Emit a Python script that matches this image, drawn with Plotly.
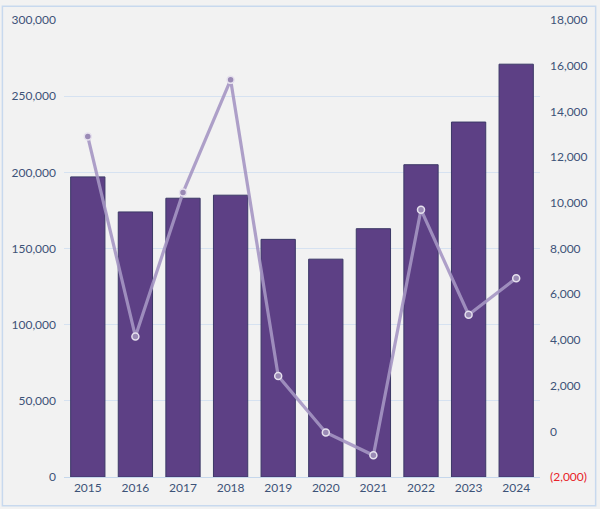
import plotly.graph_objects as go

years = ["2015", "2016", "2017", "2018", "2019", "2020", "2021", "2022", "2023", "2024"]
bar_values = [197000, 174000, 183000, 185000, 156000, 143000, 163000, 205000, 233000, 271000]
line_values = [12900, 4150, 10450, 15380, 2420, -50, -1050, 9700, 5100, 6700]

left_ticks = [0, 50000, 100000, 150000, 200000, 250000, 300000]
left_text = ["0", "50,000", "100,000", "150,000", "200,000", "250,000", "300,000"]
right_ticks = [-2000, 0, 2000, 4000, 6000, 8000, 10000, 12000, 14000, 16000, 18000]
right_text = ['<span style="color:#e8222a">(2,000)</span>', "0", "2,000", "4,000", "6,000",
              "8,000", "10,000", "12,000", "14,000", "16,000", "18,000"]

W, H = 600, 509
ml, mr, mt, mb = 63, 58, 15, 32
pw, ph = W - ml - mr, H - mt - mb

fig = go.Figure()
fig.add_trace(go.Bar(
    x=years, y=bar_values,
    marker=dict(color="#5d4085", line=dict(color="#3b3866", width=1)),
    width=0.72, yaxis="y", hoverinfo="x+y",
))
fig.add_trace(go.Scatter(
    x=years, y=line_values, yaxis="y2", mode="lines+markers",
    line=dict(color="rgba(165,150,195,0.9)", width=3.2),
    marker=dict(size=7, color="#9a8ab5", line=dict(color="#e6e1ee", width=1.5)),
))

font = dict(family="Lato, Open Sans, sans-serif", size=12, color="#3d5378")

def px2paper_x(px):
    return (px - ml) / pw

def px2paper_y(py):
    return 1 - (py - mt) / ph

fig.update_layout(
    width=W, height=H,
    margin=dict(l=ml, r=mr, t=mt, b=mb),
    paper_bgcolor="#f2f2f2", plot_bgcolor="#f2f2f2",
    showlegend=False,
    font=font,
    bargap=0.28,
    xaxis=dict(type="category", showgrid=False, showline=True, linecolor="#c5d7ec",
               linewidth=1, ticks="", tickfont=font, range=[-0.5, 9.5]),
    yaxis=dict(range=[0, 300000], tickvals=left_ticks, ticktext=left_text,
               showgrid=True, gridcolor="#d6e2f1", gridwidth=1, zeroline=False,
               showline=False, ticks="", tickfont=font, ticklabelstandoff=7),
    yaxis2=dict(range=[-2000, 18000], tickvals=right_ticks, ticktext=right_text,
                overlaying="y", side="right", showgrid=False, zeroline=False,
                showline=False, ticks="", tickfont=font, ticklabelstandoff=9),
    shapes=[dict(type="rect", xref="paper", yref="paper",
                 x0=px2paper_x(1), x1=px2paper_x(598),
                 y0=px2paper_y(506), y1=px2paper_y(1),
                 line=dict(color="#c8d9ee", width=1.5), fillcolor="rgba(0,0,0,0)",
                 layer="below")],
)

fig.write_html("out.html")
